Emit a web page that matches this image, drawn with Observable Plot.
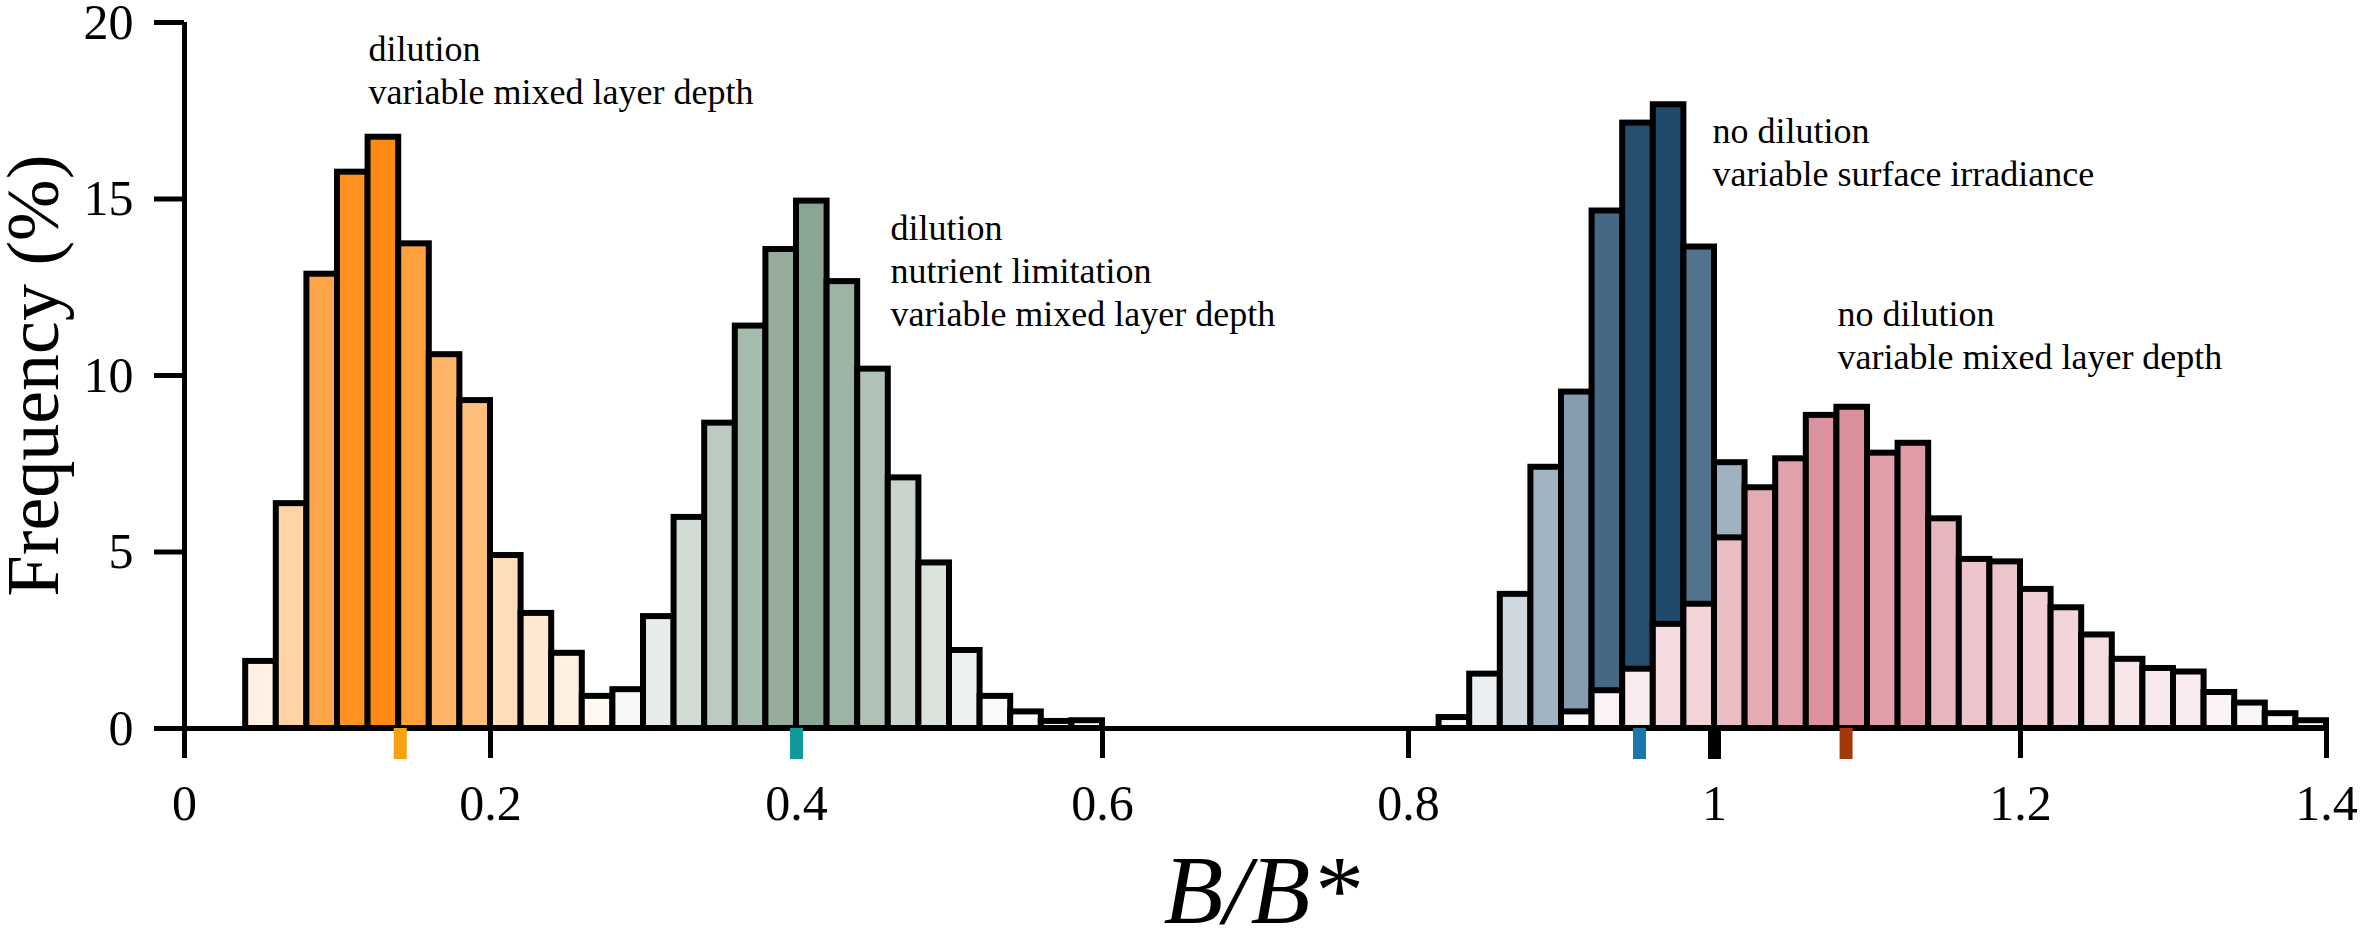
<!DOCTYPE html>
<html>
<head>
<meta charset="utf-8">
<script src="https://cdn.jsdelivr.net/npm/d3@7"></script>
<script src="https://cdn.jsdelivr.net/npm/@observablehq/plot@0.6"></script>
<style>
  html, body { margin: 0; padding: 0; background: #fff; }
  #chart svg { display: block; }
</style>
</head>
<body>
<div id="chart"></div>
<script>
// ---------- data ----------
const binWidth = 0.02;

const orangeBins = [0.04, 0.06, 0.08, 0.10, 0.12, 0.14, 0.16, 0.18, 0.20, 0.22, 0.24, 0.26];
const orangeFreq = [1.9, 6.37, 12.87, 15.76, 16.75, 13.73, 10.59, 9.29, 4.9, 3.26, 2.13, 0.91];

const greenBins = [0.28, 0.30, 0.32, 0.34, 0.36, 0.38, 0.40, 0.42, 0.44, 0.46, 0.48, 0.50, 0.52, 0.54, 0.56, 0.58];
const greenFreq = [1.1, 3.17, 5.98, 8.65, 11.4, 13.57, 14.94, 12.66, 10.18, 7.1, 4.69, 2.21, 0.91, 0.47, 0.2, 0.22];

const blueBins = [0.82, 0.84, 0.86, 0.88, 0.90, 0.92, 0.94, 0.96, 0.98, 1.00];
const blueFreq = [0.31, 1.54, 3.8, 7.4, 9.53, 14.66, 17.15, 17.67, 13.64, 7.53];

const pinkBins = [0.90, 0.92, 0.94, 0.96, 0.98, 1.00, 1.02, 1.04, 1.06, 1.08, 1.10, 1.12, 1.14,
                  1.16, 1.18, 1.20, 1.22, 1.24, 1.26, 1.28, 1.30, 1.32, 1.34, 1.36, 1.38];
const pinkFreq = [0.47, 1.07, 1.68, 2.95, 3.52, 5.4, 6.82, 7.64, 8.87, 9.1, 7.8, 8.08, 5.94,
                  4.79, 4.72, 3.94, 3.42, 2.65, 1.96, 1.70, 1.60, 1.02, 0.72, 0.42, 0.22];

const markerValues = [0.141, 0.40, 0.951, 1.0, 1.086];

const xTicks = [0, 0.2, 0.4, 0.6, 0.8, 1, 1.2, 1.4];
const yTicks = [0, 5, 10, 15, 20];

const noteText = [
  "dilution\nvariable mixed layer depth",
  "dilution\nnutrient limitation\nvariable mixed layer depth",
  "no dilution\nvariable surface irradiance",
  "no dilution\nvariable mixed layer depth"
];
const noteX = [0.1203, 0.4614, 0.9987, 1.0804];
const noteY = [17.68, 11.40, 15.36, 10.18];

// ---------- styles ----------
const seriesDark = { orange: "#ff8a12", green: "#8ba594", blue: "#1f4a6b", pink: "#db8f9b" };
const markerColors = ["#f7a10f", "#10999b", "#1a76ab", "#000000", "#a3380b"];
const FONT = "'Liberation Serif', 'Times New Roman', serif";

// ---------- build tables ----------
function table(bins, freq) {
  return bins.map((b, i) => ({ x1: b, x2: b + binWidth, f: freq[i] }));
}
function fillFor(freq, dark) {
  const max = d3.max(freq);
  const interp = d3.interpolateRgb("#ffffff", dark);
  return d => interp(d.f / max);
}
const series = [
  { data: table(orangeBins, orangeFreq), fill: fillFor(orangeFreq, seriesDark.orange) },
  { data: table(greenBins, greenFreq), fill: fillFor(greenFreq, seriesDark.green) },
  { data: table(blueBins, blueFreq), fill: fillFor(blueFreq, seriesDark.blue) },
  { data: table(pinkBins, pinkFreq), fill: fillFor(pinkFreq, seriesDark.pink) }
];
const notes = noteText.map((t, i) => ({ t, x: noteX[i], y: noteY[i] }));

const marks = [];
marks.push(Plot.ruleY([0], { stroke: "black", strokeWidth: 5 }));
for (const s of series) {
  marks.push(Plot.rectY(s.data, {
    x1: "x1", x2: "x2", y: "f", fill: s.fill,
    stroke: "black", strokeWidth: 6, inset: 0
  }));
}
marks.push(Plot.ruleX([0], { stroke: "black", strokeWidth: 5 }));
marks.push(Plot.axisY(yTicks, {
  tickSize: 30, tickPadding: 21, strokeWidth: 5, fontSize: 50, label: null, fontFamily: FONT
}));
marks.push(Plot.axisX(xTicks, {
  tickSize: 30, tickPadding: 26, strokeWidth: 5, fontSize: 50, label: null, fontFamily: FONT,
  tickFormat: d => String(+d.toFixed(1))
}));
markerValues.forEach((v, i) => {
  marks.push(Plot.axisX([v], {
    tickSize: 31, strokeWidth: 13, stroke: markerColors[i], label: null,
    tickFormat: () => ""
  }));
});
marks.push(Plot.text(notes, {
  x: "x", y: "y", text: "t", textAnchor: "start", lineAnchor: "bottom",
  lineHeight: 1.2, fontSize: 36, fontFamily: FONT, fill: "black"
}));
marks.push(Plot.text(["B/B*"], {
  frameAnchor: "bottom", textAnchor: "middle", dy: 194, dx: 6, lineAnchor: "bottom",
  fontSize: 98, fontStyle: "italic", fontFamily: FONT, fill: "black"
}));
marks.push(Plot.text(["Frequency (%)"], {
  frameAnchor: "left", textAnchor: "middle", dx: -127, rotate: -90, lineAnchor: "bottom",
  fontSize: 74, fontFamily: FONT, fill: "black"
}));

const chart = Plot.plot({
  width: 2362,
  height: 950,
  marginLeft: 184,
  marginRight: 36,
  marginTop: 22,
  marginBottom: 222,
  x: { domain: [0, 1.4], axis: null },
  y: { domain: [0, 20], axis: null },
  style: { fontFamily: FONT, color: "black", background: "white", overflow: "visible" },
  marks
});
document.getElementById("chart").appendChild(chart);
</script>
</body>
</html>
